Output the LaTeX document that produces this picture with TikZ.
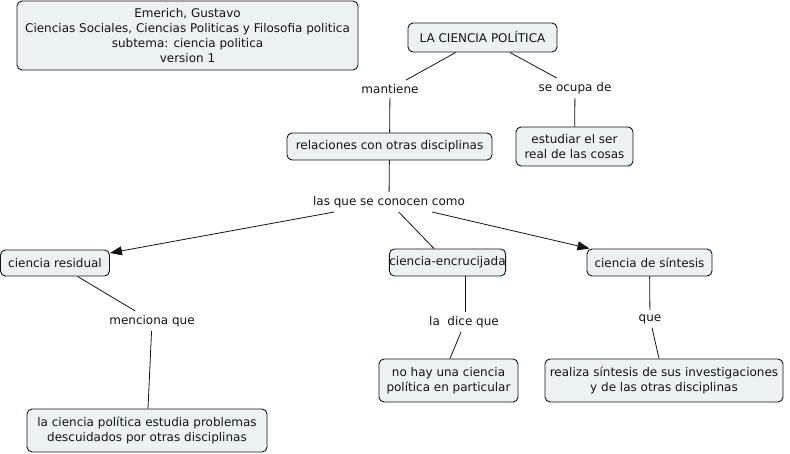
\documentclass[tikz,border=0pt]{standalone}
\usepackage{fontspec}
\setmainfont{DejaVu Sans}
\usetikzlibrary{arrows.meta}
\definecolor{boxfill}{RGB}{236,242,244}
\definecolor{ink}{RGB}{20,20,20}
\tikzset{
  concept/.style={draw=ink, fill=boxfill, rounded corners=5pt, line width=0.9pt, align=center, text=ink, font=\fontsize{12}{14.7}\selectfont, inner sep=0pt},
  linkword/.style={align=center, text=ink, font=\fontsize{12}{14.7}\selectfont, inner sep=4pt, fill=white},
  conn/.style={draw=ink, line width=0.8pt},
  arr/.style={conn, -{Triangle[length=12pt,width=9pt]}}
}
\begin{document}
\begin{tikzpicture}[x=1pt,y=-1pt]
\useasboundingbox[fill=white] (0,0) rectangle (790,454);
% concepts
\node[concept, minimum width=341pt, minimum height=69pt] (hdr) at (187.5,35.5) {Emerich, Gustavo\\Ciencias Sociales, Ciencias Politicas y Filosofia politica\\subtema: ciencia politica\\version 1};
\node[concept, minimum width=149pt, minimum height=29pt] (lcp) at (482.5,37.5) {LA CIENCIA POLÍTICA};
\node[concept, minimum width=205pt, minimum height=27pt] (rel) at (389.5,146.5) {relaciones con otras disciplinas};
\node[concept, minimum width=117pt, minimum height=39pt] (est) at (574.5,146.5) {estudiar el ser\\real de las cosas};
\node[concept, minimum width=109pt, minimum height=26pt] (res) at (55,263) {ciencia residual};
\node[concept, minimum width=109pt, minimum height=27pt] (enc) at (447.5,262.5) {ciencia-encrucijada};
\node[concept, minimum width=125pt, minimum height=27pt] (sin) at (649.5,262.5) {ciencia de síntesis};
\node[concept, minimum width=240pt, minimum height=43pt] (prob) at (147,430.5) {la ciencia política estudia problemas\\descuidados por otras disciplinas};
\node[concept, minimum width=139pt, minimum height=43pt] (nohay) at (448.5,380.5) {no hay una ciencia\\política en particular};
\node[concept, minimum width=238pt, minimum height=43pt] (real) at (664,380.5) {realiza síntesis de sus investigaciones\\y de las otras disciplinas};
% linking words
\node[linkword] (mant) at (390,89) {mantiene};
\node[linkword] (ocupa) at (575,88) {se ocupa de};
\node[linkword] (lasque) at (389,202) {las que se conocen como};
\node[linkword] (menc) at (152,321) {menciona que};
\node[linkword] (dice) at (464,322) {la\ \ dice que};
\node[linkword] (que) at (650,319) {que};
% connectors
\draw[conn] (lcp) -- (mant);
\draw[conn] (lcp) -- (ocupa);
\draw[conn] (mant) -- (rel);
\draw[conn] (ocupa) -- (est);
\draw[conn] (rel) -- (lasque);
\draw[arr] (lasque) -- (res);
\draw[conn] (lasque) -- (enc);
\draw[arr] (lasque) -- (sin);
\draw[conn] (res) -- (menc);
\draw[conn] (menc) -- (prob);
\draw[conn] ([xshift=17.5pt]enc.south) -- ([xshift=1pt]dice.north);
\draw[conn] ([xshift=-3pt]dice.south) -- ([xshift=1.5pt]nohay.north);
\draw[conn] (sin) -- (que);
\draw[conn] (que) -- (real);
\end{tikzpicture}
\end{document}
